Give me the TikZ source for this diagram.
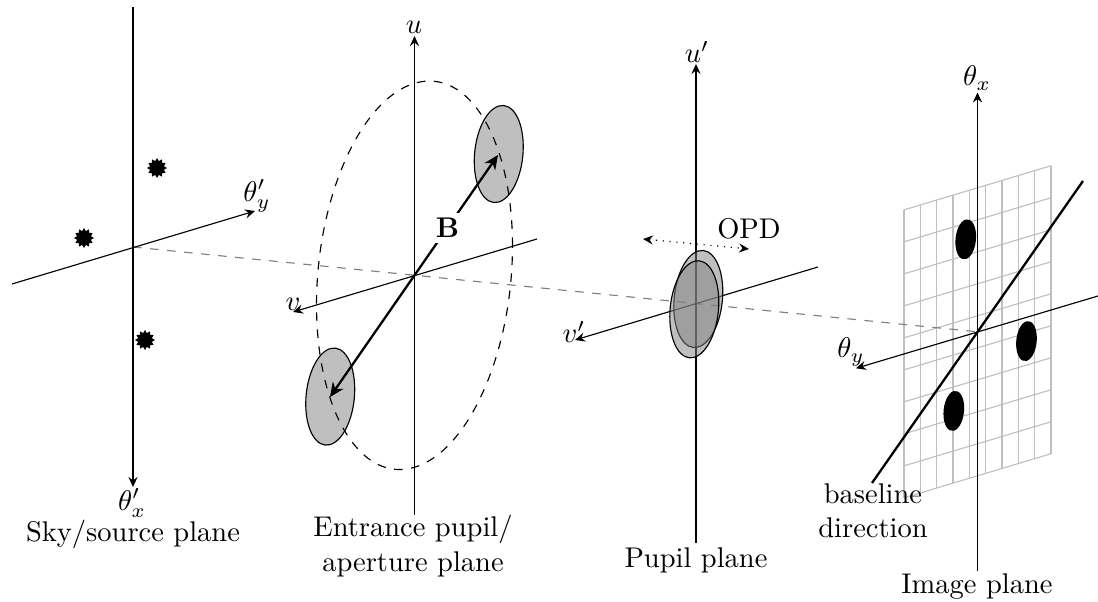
\documentclass[tikz,border=0pt]{standalone}
\usepackage{amsmath}
\usetikzlibrary{arrows.meta,shapes.geometric}

\begin{document}
\begin{tikzpicture}[
  x=0.351pt, y=-0.351pt,
  axis/.style={-{Stealth[inset=1.2pt,length=3.5pt,width=3.2pt]}},
  planexy/.style={x={(16.33,-4.9)}, y={(0,-32)}},
  pupil/.style={draw, fill=gray, fill opacity=0.5},
  spot/.style={fill=black},
  pointsrc/.style={star, star points=12, star point ratio=1.4, fill=black, inner sep=0pt, minimum size=7pt},
  basevec/.style={-{Stealth[inset=1.6pt,length=5pt,width=4.5pt]}, thick},
  lbl/.style={inner sep=0pt, align=center}
]
\useasboundingbox (0,0) rectangle (1098,602);

% plane origins
\coordinate (sky) at (133,247);
\coordinate (ent) at (414.5,275.3);
\coordinate (pup) at (696,303.5);
\coordinate (img) at (977.5,331.8);

% axis ends
\coordinate (skyv0) at (133,7);
\coordinate (skyv1) at (133,487);
\coordinate (skyh0) at (12,284);
\coordinate (skyh1) at (255,211);
\coordinate (entv0) at (414.5,515);
\coordinate (entv1) at (414.5,36);
\coordinate (enth0) at (537,239);
\coordinate (enth1) at (293,312);
\coordinate (pupv0) at (696,543);
\coordinate (pupv1) at (696,64);
\coordinate (puph0) at (818,267);
\coordinate (puph1) at (575,340);
\coordinate (imgv0) at (977.5,571.5);
\coordinate (imgv1) at (977.5,92.5);
\coordinate (imgh0) at (1098,296);
\coordinate (imgh1) at (856,368.3);

% grid on the image plane
\begin{scope}[shift={(img)}, planexy, gray!50]
  \foreach \t in {-4.5,-3.5,...,4.5} {
    \draw (\t,-4.5) -- (\t,4.5);
    \draw (-4.5,\t) -- (4.5,\t);
  }
\end{scope}

\draw[gray, dashed] (sky) -- (img);

\draw[axis] (skyv0) -- (skyv1);
\draw[axis] (skyh0) -- (skyh1);
\draw[axis] (entv0) -- (entv1);
\draw[axis] (enth0) -- (enth1);
\draw[axis] (pupv0) -- (pupv1);
\draw[axis] (puph0) -- (puph1);
\draw[axis] (imgv0) -- (imgv1);
\draw[axis] (imgh0) -- (imgh1);

% sources
\node[pointsrc] (src1) at (157,168) {};
\node[pointsrc] (src2) at (84,238) {};
\node[pointsrc] (src3) at (145,340) {};

% entrance pupil
\begin{scope}[shift={(ent)}, planexy]
  \draw[pupil] (-5.16,-3) circle (1.5);
  \draw[pupil] (5.16,3) circle (1.5);
  \draw[dashed] (0,0) circle (6);
\end{scope}
\coordinate (tel1) at (498,155);
\coordinate (tel2) at (330,397);
\draw[basevec] (ent) -- (tel1);
\draw[basevec] (ent) -- (tel2);
\node[lbl, fill=white, inner sep=2pt] (bvec) at (447.5,228) {$\mathbf{B}$};

% pupil plane
\begin{scope}[shift={(698.3,299)}, planexy]
  \draw[pupil] (0,0) circle (1.5);
\end{scope}
\begin{scope}[shift={(694.3,309.3)}, planexy]
  \draw[pupil] (0,0) circle (1.5);
\end{scope}
\coordinate (opd0) at (643,239);
\coordinate (opd1) at (749,249);
\draw[{Stealth[inset=1.2pt,length=3.5pt,width=3.2pt]}-{Stealth[inset=1.2pt,length=3.5pt,width=3.2pt]}, dotted] (opd0) -- (opd1);
\node[lbl] (opd) at (749,229) {OPD};

% image plane
\begin{scope}[shift={(img)}, planexy]
  \draw[spot] (-0.72,3) circle (0.6);
  \draw[spot] (3,-0.75) circle (0.6);
  \draw[spot] (-1.45,-2.25) circle (0.6);
\end{scope}
\coordinate (bl0) at (872,483);
\coordinate (bl1) at (1083,181);
\draw[thick] (bl0) -- (bl1);

% axis labels
\node[lbl] (thx1) at (132,503) {$\theta_x'$};
\node[lbl] (thy1) at (257,196) {$\theta_y'$};
\node[lbl] (lu) at (414,27) {$u$};
\node[lbl] (lv) at (293,304) {$v$};
\node[lbl] (lu1) at (697,52) {$u'$};
\node[lbl] (lv1) at (574,332) {$v'$};
\node[lbl] (thx) at (977,78) {$\theta_x$};
\node[lbl] (thy) at (851,352) {$\theta_y$};

% plane names
\node[lbl] (nsky) at (133,534) {Sky/source plane};
\node[lbl] (nent) at (413,546) {Entrance pupil/\\aperture plane};
\node[lbl] (npup) at (696,560) {Pupil plane};
\node[lbl] (nimg) at (977,587) {Image plane};
\node[lbl] (nbl) at (873,511) {baseline\\direction};
\end{tikzpicture}
\end{document}
